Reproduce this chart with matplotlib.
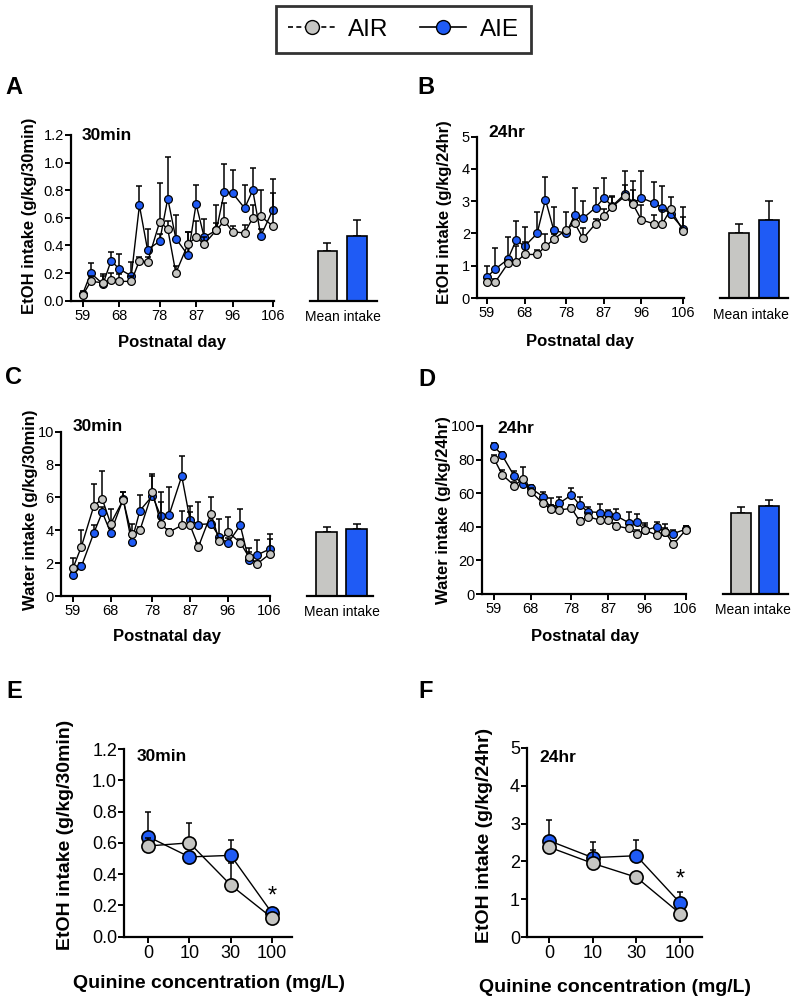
import matplotlib
matplotlib.use('Agg')
import matplotlib.pyplot as plt
from matplotlib.lines import Line2D
import numpy as np

plt.rcParams['font.family'] = ['Liberation Sans', 'DejaVu Sans']

# ---------------- data ----------------
days = [59, 61, 64, 66, 68, 71, 73, 75, 78, 80, 82, 85, 87, 89, 92, 94, 96, 99, 101, 103, 106]
day_ticks = [59, 68, 78, 87, 96, 106]

# Panel A: EtOH 30 min
aie_A = [0.05, 0.20, 0.12, 0.29, 0.23, 0.18, 0.69, 0.37, 0.43, 0.74, 0.45, 0.33, 0.70, 0.46, 0.51, 0.79, 0.78, 0.67, 0.80, 0.47, 0.66]
aie_A_sem = [0.02, 0.07, 0.06, 0.06, 0.11, 0.10, 0.14, 0.15, 0.05, 0.30, 0.17, 0.17, 0.14, 0.13, 0.05, 0.20, 0.17, 0.17, 0.16, 0.05, 0.22]
air_A = [0.04, 0.14, 0.13, 0.15, 0.14, 0.14, 0.29, 0.28, 0.57, 0.52, 0.20, 0.41, 0.46, 0.41, 0.51, 0.58, 0.50, 0.49, 0.60, 0.61, 0.54]
air_A_sem = [0.02, 0.04, 0.06, 0.05, 0.05, 0.04, 0.03, 0.04, 0.28, 0.06, 0.05, 0.09, 0.12, 0.05, 0.18, 0.13, 0.04, 0.06, 0.09, 0.19, 0.24]
mean_A = [0.36, 0.47]
mean_A_sem = [0.055, 0.115]

# Panel B: EtOH 24 hr
aie_B = [0.65, 0.90, 1.20, 1.80, 1.60, 2.00, 3.05, 2.10, 2.00, 2.58, 2.47, 2.80, 3.10, 2.85, 3.22, 2.95, 3.10, 2.95, 2.80, 2.60, 2.15]
aie_B_sem = [0.35, 0.65, 0.70, 0.60, 0.60, 0.68, 0.71, 0.73, 0.10, 0.82, 0.53, 0.62, 0.61, 0.30, 0.73, 0.68, 0.84, 0.65, 0.68, 0.10, 0.68]
air_B = [0.50, 0.50, 1.07, 1.12, 1.35, 1.35, 1.60, 1.82, 2.12, 2.32, 1.85, 2.30, 2.55, 2.83, 3.15, 2.90, 2.42, 2.30, 2.30, 2.75, 2.08]
air_B_sem = [0.10, 0.10, 0.10, 0.48, 0.40, 0.15, 0.38, 0.15, 0.56, 0.10, 0.31, 0.15, 0.20, 0.31, 0.35, 0.45, 0.46, 0.27, 0.43, 0.39, 0.44]
mean_B = [2.03, 2.42]
mean_B_sem = [0.25, 0.60]

# Panel C: Water 30 min
aie_C = [1.3, 1.8, 3.85, 5.1, 3.85, 5.9, 3.3, 5.2, 6.1, 4.85, 4.95, 7.3, 4.6, 4.35, 4.4, 3.6, 3.2, 4.3, 2.2, 2.5, 2.85]
aie_C_sem = [0.1, 0.2, 0.5, 0.3, 0.3, 0.45, 0.3, 0.95, 1.2, 1.45, 1.7, 1.2, 0.85, 1.35, 0.6, 1.1, 0.3, 1.0, 0.5, 0.9, 0.9]
air_C = [1.7, 3.0, 5.5, 5.9, 4.4, 5.85, 3.75, 4.0, 6.35, 4.4, 3.9, 4.3, 4.3, 3.0, 5.0, 3.35, 3.9, 3.25, 2.4, 1.95, 2.55]
air_C_sem = [0.6, 1.0, 1.3, 1.7, 0.9, 0.45, 0.65, 0.2, 1.05, 1.35, 0.2, 0.9, 0.8, 0.2, 1.05, 0.2, 0.9, 0.2, 0.55, 0.2, 0.9]
mean_C = [3.9, 4.05]
mean_C_sem = [0.32, 0.35]

# Panel D: Water 24 hr
aie_D = [88, 82.5, 70, 65.5, 63, 58, 51, 54, 59, 53, 49, 48.5, 47.5, 46.5, 42.5, 43, 38, 40, 37, 36, 38.5]
aie_D_sem = [2, 2, 3, 2, 2, 3, 2, 4, 4, 4.6, 3, 5, 2.5, 4.2, 6.5, 4.7, 3, 3, 2, 2, 2]
air_D = [80.5, 71, 64.5, 68.5, 61, 54, 50.5, 50, 51, 43.5, 46, 44, 44, 40.5, 39, 36, 38, 35, 37, 29.5, 38]
air_D_sem = [2, 3, 2, 7.3, 2, 2, 6.5, 2, 2, 2, 2, 2, 2, 2, 2, 2, 4, 2, 4.8, 2, 2.6]
mean_D = [48.5, 52.5]
mean_D_sem = [3.0, 3.5]

# Panels E/F: quinine adulteration
quinine = ['0', '10', '30', '100']
aie_E = [0.64, 0.51, 0.52, 0.15]
aie_E_sem = [0.16, 0.03, 0.10, 0.02]
air_E = [0.58, 0.60, 0.33, 0.12]
air_E_sem = [0.05, 0.13, 0.14, 0.02]
aie_F = [2.55, 2.10, 2.15, 0.90]
aie_F_sem = [0.55, 0.42, 0.42, 0.28]
air_F = [2.38, 1.95, 1.58, 0.62]
air_F_sem = [0.10, 0.35, 0.10, 0.05]

GRAY = '#C6C6C3'
BLUE = '#1F5BF5'

# ---------------- figure ----------------
fig = plt.figure(figsize=(8, 10), dpi=100)
W, H = 800.0, 1000.0


def add_ax(l, t, r, b):
    return fig.add_axes([l / W, 1 - b / H, (r - l) / W, (b - t) / H])


def ftext(x, y, s, **kw):
    fig.text(x / W, 1 - y / H, s, **kw)


def style(ax, fs):
    for s in ['top', 'right']:
        ax.spines[s].set_visible(False)
    for s in ['left', 'bottom']:
        ax.spines[s].set_linewidth(1.6)
    ax.tick_params(direction='out', length=4, width=1.4, labelsize=fs, pad=2)
    ax.tick_params(axis='y', pad=1)


def series(ax, x, y, e, color, ms, mew, zo):
    ax.errorbar(x, y, yerr=[np.zeros(len(e)), e], fmt='none', ecolor='black',
                elinewidth=1.1, capsize=2.5, capthick=1.1, zorder=zo, clip_on=False)
    ax.plot(x, y, '-', color='black', lw=1.0, marker='o', ms=ms, mfc=color,
            mec='black', mew=mew, zorder=zo + 0.5, clip_on=False)


def line_panel(box, xlim, ylim, yticks, yfmt, aie, aie_s, air, air_s, tag, tagpos,
               ylabel, ylab_px, xlab_px):
    ax = add_ax(*box)
    style(ax, 10.5)
    series(ax, days, aie, aie_s, BLUE, 5.6, 0.9, 3)
    series(ax, days, air, air_s, GRAY, 5.6, 0.9, 4)
    ax.set_xlim(*xlim)
    ax.set_ylim(*ylim)
    ax.set_xticks(day_ticks)
    ax.set_yticks(yticks)
    ax.set_yticklabels([yfmt.format(v) for v in yticks])
    ax.text(tagpos[0], tagpos[1], tag, transform=ax.transAxes, fontsize=12.5,
            fontweight='bold', ha='left', va='center')
    ftext(ylab_px[0], ylab_px[1], ylabel, fontsize=12, fontweight='bold',
          rotation=90, ha='center', va='center')
    ftext(xlab_px[0], xlab_px[1], 'Postnatal day', fontsize=12, fontweight='bold',
          ha='center', va='center')
    return ax


def bar_panel(box, xlim, ylim, vals, errs, width):
    ax = add_ax(*box)
    ax.bar([0, 1], vals, width=width, color=[GRAY, BLUE], edgecolor='black',
           linewidth=1.2, zorder=2)
    ax.errorbar([0, 1], vals, yerr=[[0, 0], errs], fmt='none', ecolor='black',
                elinewidth=1.1, capsize=3, capthick=1.1, zorder=1)
    ax.set_xlim(*xlim)
    ax.set_ylim(*ylim)
    for s in ['top', 'right', 'left']:
        ax.spines[s].set_visible(False)
    ax.spines['bottom'].set_linewidth(1.6)
    ax.set_xticks([])
    ax.set_yticks([])
    return ax


# Panel A
line_panel((71, 135, 274, 300.7), (56.1, 106.25), (0, 1.2), [0, 0.2, 0.4, 0.6, 0.8, 1.0, 1.2],
           '{:.1f}', aie_A, aie_A_sem, air_A, air_A_sem, '30min', (0.054, 1.0),
           'EtOH intake (g/kg/30min)', (30.0, 215.7), (172, 343))
bar_panel((310, 135, 377, 300.7), (-0.593, 1.678), (0, 1.2), mean_A, mean_A_sem, 0.66)
ftext(343, 317, 'Mean intake', fontsize=10, ha='center', va='center')

# Panel B
line_panel((477, 136.7, 684, 298), (56.6, 106.2), (0, 5), [0, 1, 2, 3, 4, 5],
           '{:.0f}', aie_B, aie_B_sem, air_B, air_B_sem, '24hr', (0.053, 1.025),
           'EtOH intake (g/kg/24hr)', (445, 211.7), (580, 341.7))
bar_panel((720, 136.7, 788, 298), (-0.633, 1.633), (0, 5), mean_B, mean_B_sem, 0.667)
ftext(751, 315, 'Mean intake', fontsize=10, ha='center', va='center')

# Panel C
line_panel((60.7, 431.7, 270, 596), (56.06, 106.1), (0, 10), [0, 2, 4, 6, 8, 10],
           '{:.0f}', aie_C, aie_C_sem, air_C, air_C_sem, '30min', (0.059, 1.03),
           'Water intake (g/kg/30min)', (30.5, 510), (166.7, 636.7))
bar_panel((307, 431.7, 373, 596), (-0.65, 1.55), (0, 10), mean_C, mean_C_sem, 0.667)
ftext(342, 612, 'Mean intake', fontsize=10, ha='center', va='center')

# Panel D
line_panel((482, 426, 686, 594), (56.04, 106.1), (0, 100), [0, 20, 40, 60, 80, 100],
           '{:.0f}', aie_D, aie_D_sem, air_D, air_D_sem, '24hr', (0.073, 0.988),
           'Water intake (g/kg/24hr)', (443.5, 510), (585, 636.7))
bar_panel((723, 426, 788, 594), (-0.63, 1.65), (0, 100), mean_D, mean_D_sem, 0.7)
ftext(753, 610, 'Mean intake', fontsize=10, ha='center', va='center')


def quinine_panel(box, xlim, ylim, yticks, yfmt, aie, aie_s, air, air_s, tag, tagpos,
                  ylabel, ylab_px, xlab_px, star_y):
    ax = add_ax(*box)
    style(ax, 13)
    xs = np.arange(len(quinine))
    series(ax, xs, aie, aie_s, BLUE, 9.5, 1.2, 3)
    series(ax, xs, air, air_s, GRAY, 9.5, 1.2, 4)
    ax.set_xlim(*xlim)
    ax.set_ylim(*ylim)
    ax.set_xticks(xs)
    ax.set_xticklabels(quinine)
    ax.set_yticks(yticks)
    ax.set_yticklabels([yfmt.format(v) for v in yticks])
    ax.text(tagpos[0], tagpos[1], tag, transform=ax.transAxes, fontsize=12.5,
            fontweight='bold', ha='left', va='center')
    ax.text(3, star_y, '*', fontsize=17, ha='center', va='center')
    ftext(ylab_px[0], ylab_px[1], ylabel, fontsize=14, fontweight='bold',
          rotation=90, ha='center', va='center')
    ftext(xlab_px[0], xlab_px[1], 'Quinine concentration (mg/L)', fontsize=14,
          fontweight='bold', ha='center', va='center')
    return ax


quinine_panel((124, 749, 292, 936.7), (-0.58, 3.48), (0, 1.2), [0, 0.2, 0.4, 0.6, 0.8, 1.0, 1.2],
              '{:.1f}', aie_E, aie_E_sem, air_E, air_E_sem, '30min', (0.077, 0.959),
              'EtOH intake (g/kg/30min)', (65, 835), (209, 983), 0.26)
quinine_panel((527, 748, 702, 937), (-0.5, 3.5), (0, 5), [0, 1, 2, 3, 4, 5],
              '{:.0f}', aie_F, aie_F_sem, air_F, air_F_sem, '24hr', (0.069, 0.952),
              'EtOH intake (g/kg/24hr)', (485, 835.7), (615, 988), 1.52)

# Panel letters
for letter, (x, y) in {'A': (5, 88), 'B': (417, 88), 'C': (5, 378), 'D': (418, 380),
                       'E': (6, 692), 'F': (418, 692)}.items():
    ftext(x, y, letter, fontsize=17, fontweight='bold', ha='left', va='center')

# Legend
handles = [
    Line2D([0], [0], color='black', ls=(0, (3, 2)), lw=1.2, marker='o', ms=10,
           mfc=GRAY, mec='black', mew=1.0),
    Line2D([0], [0], color='black', ls='-', lw=1.2, marker='o', ms=10,
           mfc=BLUE, mec='black', mew=1.0),
]
leg = fig.legend(handles, ['AIR', 'AIE'], loc='center', bbox_to_anchor=(403.5 / W, 1 - 29.5 / H),
                 ncol=2, fontsize=17.5, frameon=True, fancybox=False, edgecolor='black',
                 handlelength=1.9, columnspacing=1.3, handletextpad=0.55, borderpad=0.5)
leg.get_frame().set_linewidth(2)

fig.savefig('out.png', dpi=100)
